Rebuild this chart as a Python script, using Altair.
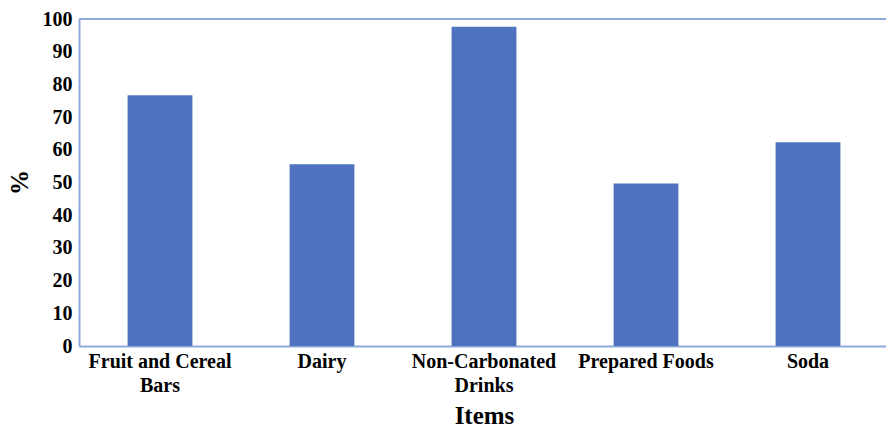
import altair as alt
import pandas as pd

categories = ["Fruit and Cereal Bars", "Dairy", "Non-Carbonated Drinks", "Prepared Foods", "Soda"]
values = [76.7, 55.6, 97.6, 49.7, 62.3]

df = pd.DataFrame({"item": categories, "pct": values})

BAR = "#4F72BE"
FRAME = "#8EA9DB"
FONT = "Liberation Serif"

label_expr = ("datum.label == 'Fruit and Cereal Bars' ? ['Fruit and Cereal', 'Bars'] : "
              "datum.label == 'Non-Carbonated Drinks' ? ['Non-Carbonated', 'Drinks'] : datum.label")

bars = alt.Chart(df).mark_bar(color=BAR).encode(
    x=alt.X("item:N", sort=categories, title="Items",
            scale=alt.Scale(paddingInner=0.6, paddingOuter=0.3, range=[0, 810]),
            axis=alt.Axis(labelAngle=0, labelExpr=label_expr, labelFontSize=20,
                          labelFontWeight="bold", labelColor="black", labelPadding=5,
                          labelLineHeight=24, ticks=False, domainColor=FRAME, domainWidth=2,
                          titleFontSize=25, titleFontWeight="bold",
                          titleColor="black", titlePadding=8)),
    y=alt.Y("pct:Q", title="%",
            scale=alt.Scale(domain=[0, 100], nice=False),
            axis=alt.Axis(values=list(range(0, 101, 10)), labelFontSize=20,
                          labelFontWeight="bold", labelColor="black", labelPadding=7,
                          ticks=False, grid=False, domainColor=FRAME, domainWidth=2,
                          titleFontSize=25, titleFontWeight="bold",
                          titleColor="black", titleAngle=-90, titleX=-60, titleY=163,
                          titleAlign="center", titleBaseline="middle")),
)

top = alt.Chart(df).mark_rule(color=FRAME, strokeWidth=2).encode(
    x=alt.value(0), x2=alt.value(807), y=alt.value(0)
)

chart = alt.layer(bars, top).properties(
    width=807, height=327,
    padding={"left": 79, "top": 19, "right": 0, "bottom": 81},
    autosize=alt.AutoSizeParams(type="none"),
).configure_view(stroke=None).configure_axis(
    labelFont=FONT, titleFont=FONT
).configure(background="white", font=FONT)

chart.save("out.html", embed_options={"renderer": "svg", "actions": False})
